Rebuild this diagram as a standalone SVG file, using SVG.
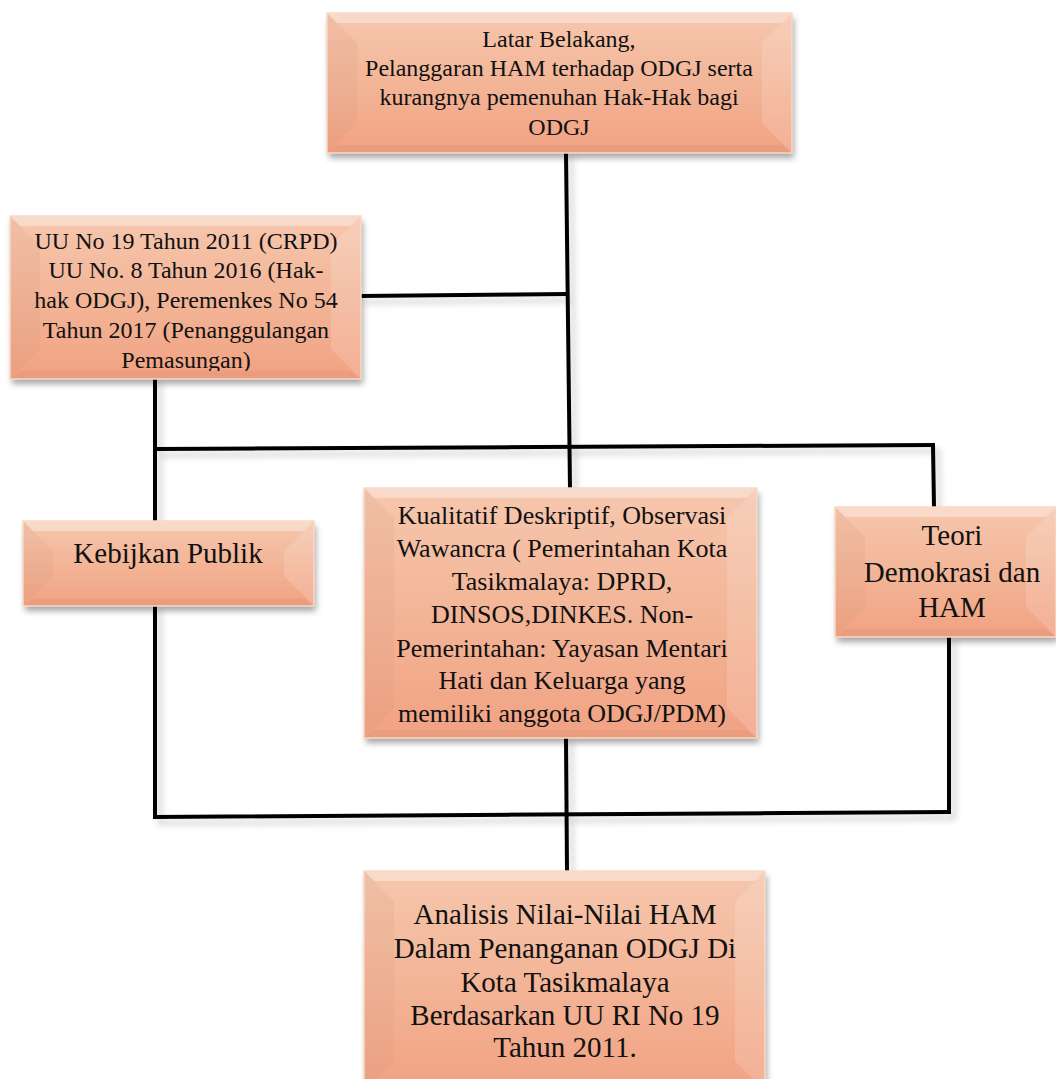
<svg xmlns="http://www.w3.org/2000/svg" width="1056" height="1079" viewBox="0 0 1056 1079">
<defs>
<linearGradient id="fillG" x1="0" y1="0" x2="0" y2="1">
<stop offset="0" stop-color="#f6c7ae"/>
<stop offset="0.5" stop-color="#f3b597"/>
<stop offset="1" stop-color="#f1a283"/>
</linearGradient>
<filter id="shadow" x="-10%" y="-10%" width="125%" height="130%">
<feDropShadow dx="2" dy="5" stdDeviation="3" flood-color="#000" flood-opacity="0.35"/>
</filter>
<filter id="lshadow" x="-20%" y="-20%" width="140%" height="140%">
<feDropShadow dx="5" dy="6" stdDeviation="3" flood-color="#000" flood-opacity="0.18"/>
</filter>
<clipPath id="clip2"><rect x="10" y="216" width="351" height="155"/></clipPath>
</defs>
<style>
.box{fill:url(#fillG);filter:url(#shadow);}
.bt{fill:#ffffff;opacity:0.35;}
.bl{fill:#c88a70;opacity:0.12;}
.br{fill:#ffffff;opacity:0.15;}
.bb{fill:#b06a4c;opacity:0.1;}
.edge{fill:none;stroke:#f9d9c8;stroke-width:1.5;}
text{font-family:"Liberation Serif","Times New Roman",serif;fill:#111;text-anchor:middle;}
.conn line{stroke:#000;stroke-width:4;fill:none;stroke-linecap:square;}
</style>

<g id="connectors" class="conn" filter="url(#lshadow)">
<line x1="566" y1="153" x2="570" y2="488"/>
<line x1="361" y1="296" x2="566" y2="294"/>
<line x1="155" y1="379" x2="155" y2="521"/>
<line x1="155" y1="449" x2="933" y2="445"/>
<line x1="933" y1="445" x2="934" y2="507"/>
<line x1="155" y1="606" x2="155" y2="817"/>
<line x1="155" y1="817" x2="949" y2="812"/>
<line x1="949" y1="812" x2="949" y2="637"/>
<line x1="566" y1="738" x2="567" y2="871"/>
</g>

<g id="node-latar">
<rect class="box" x="327" y="13" width="465" height="140"/>
<polygon class="bt" points="327,13 792,13 782,23 337,23"/>
<polygon class="bl" points="327,13 357,43 357,123 327,153"/>
<polygon class="br" points="792,13 762,43 762,123 792,153"/>
<polygon class="bb" points="327,153 792,153 782,145 337,145"/>
<rect class="edge" x="327" y="13" width="465" height="140"/>
<text x="559" y="47" font-size="24">Latar Belakang,</text>
<text x="559" y="76" font-size="24">Pelanggaran HAM terhadap ODGJ serta</text>
<text x="559" y="105" font-size="24">kurangnya pemenuhan Hak-Hak bagi</text>
<text x="559" y="135" font-size="24">ODGJ</text>
</g>

<g id="node-uu">
<rect class="box" x="10" y="216" width="351" height="163"/>
<polygon class="bt" points="10,216 361,216 351,226 20,226"/>
<polygon class="bl" points="10,216 40,246 40,349 10,379"/>
<polygon class="br" points="361,216 331,246 331,349 361,379"/>
<polygon class="bb" points="10,379 361,379 351,371 20,371"/>
<rect class="edge" x="10" y="216" width="351" height="163"/>
<g clip-path="url(#clip2)">
<text x="186" y="249" font-size="24">UU No 19 Tahun 2011 (CRPD)</text>
<text x="186" y="278" font-size="24">UU No. 8 Tahun 2016 (Hak-</text>
<text x="186" y="308" font-size="24">hak ODGJ), Peremenkes No 54</text>
<text x="186" y="338" font-size="24">Tahun 2017 (Penanggulangan</text>
<text x="186" y="368" font-size="24">Pemasungan)</text>
</g>
</g>

<g id="node-kebijakan">
<rect class="box" x="23" y="521" width="291" height="85"/>
<polygon class="bt" points="23,521 314,521 304,531 33,531"/>
<polygon class="bl" points="23,521 53,551 53,576 23,606"/>
<polygon class="br" points="314,521 284,551 284,576 314,606"/>
<polygon class="bb" points="23,606 314,606 304,598 33,598"/>
<rect class="edge" x="23" y="521" width="291" height="85"/>
<text x="168" y="563" font-size="29">Kebijkan Publik</text>
</g>

<g id="node-kualitatif">
<rect class="box" x="364" y="488" width="393" height="250"/>
<polygon class="bt" points="364,488 757,488 747,498 374,498"/>
<polygon class="bl" points="364,488 394,518 394,708 364,738"/>
<polygon class="br" points="757,488 727,518 727,708 757,738"/>
<polygon class="bb" points="364,738 757,738 747,730 374,730"/>
<rect class="edge" x="364" y="488" width="393" height="250"/>
<text x="562" y="524" font-size="26">Kualitatif Deskriptif, Observasi</text>
<text x="562" y="557" font-size="26">Wawancra ( Pemerintahan Kota</text>
<text x="562" y="590" font-size="26">Tasikmalaya: DPRD,</text>
<text x="562" y="623" font-size="26">DINSOS,DINKES. Non-</text>
<text x="562" y="657" font-size="26">Pemerintahan: Yayasan Mentari</text>
<text x="562" y="689" font-size="26">Hati dan Keluarga yang</text>
<text x="562" y="722" font-size="26">memiliki anggota ODGJ/PDM)</text>
</g>

<g id="node-teori">
<rect class="box" x="835" y="507" width="221" height="130"/>
<polygon class="bt" points="835,507 1056,507 1046,517 845,517"/>
<polygon class="bl" points="835,507 865,537 865,607 835,637"/>
<polygon class="br" points="1056,507 1026,537 1026,607 1056,637"/>
<polygon class="bb" points="835,637 1056,637 1046,629 845,629"/>
<rect class="edge" x="835" y="507" width="221" height="130"/>
<text x="952" y="545" font-size="29">Teori</text>
<text x="952" y="582" font-size="29">Demokrasi dan</text>
<text x="952" y="617" font-size="29">HAM</text>
</g>

<g id="node-analisis">
<rect class="box" x="364" y="871" width="401" height="220"/>
<polygon class="bt" points="364,871 765,871 755,881 374,881"/>
<polygon class="bl" points="364,871 394,901 394,1061 364,1091"/>
<polygon class="br" points="765,871 735,901 735,1061 765,1091"/>
<rect class="edge" x="364" y="871" width="401" height="220"/>
<text x="565" y="924" font-size="29">Analisis Nilai-Nilai HAM</text>
<text x="565" y="958" font-size="29">Dalam Penanganan ODGJ Di</text>
<text x="565" y="992" font-size="29">Kota Tasikmalaya</text>
<text x="565" y="1025" font-size="29">Berdasarkan UU RI No 19</text>
<text x="565" y="1057" font-size="29">Tahun 2011.</text>
</g>
</svg>
